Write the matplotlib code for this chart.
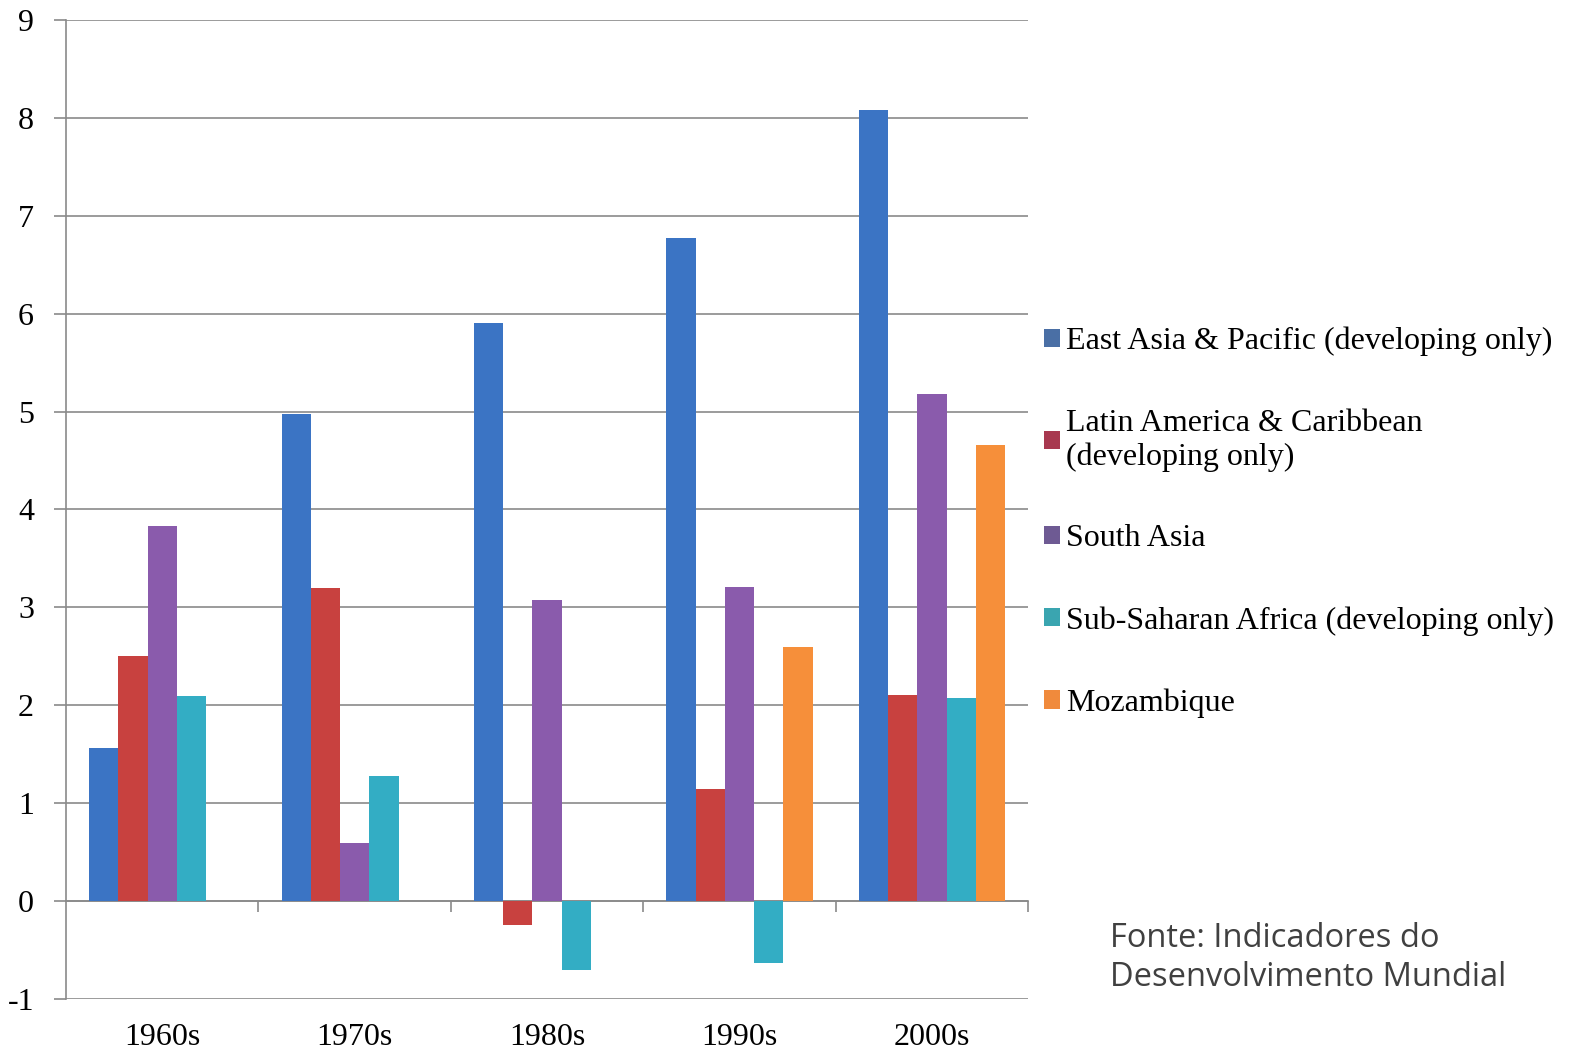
import matplotlib
matplotlib.use('Agg')
import matplotlib.pyplot as plt
from matplotlib.patches import Patch
import numpy as np

# data
decades = ['1960s', '1970s', '1980s', '1990s', '2000s']
series_names = [
    'East Asia & Pacific (developing only)',
    'Latin America & Caribbean\n(developing only)',
    'South Asia',
    'Sub-Saharan Africa (developing only)',
    'Mozambique',
]
east_asia = [1.56, 4.98, 5.90, 6.77, 8.08]
latin_america = [2.50, 3.20, -0.24, 1.14, 2.10]
south_asia = [3.83, 0.59, 3.08, 3.21, 5.18]
sub_saharan = [2.09, 1.28, -0.70, -0.63, 2.07]
mozambique = [np.nan, np.nan, np.nan, 2.60, 4.66]

colors = ['#3b74c4', '#c8413f', '#8a5bac', '#33adc4', '#f68f3a']
legend_colors = ['#4a6fa5', '#a8384f', '#6e5a93', '#3aa5b0', '#f08a3c']
y_ticks = list(range(-1, 10))

plt.rcParams['font.family'] = ['Liberation Serif', 'DejaVu Serif']

fig = plt.figure(figsize=(15.72, 10.53), dpi=100)
ax = fig.add_axes([0.042, 0.0513, 0.612, 0.9297])

all_series = [east_asia, latin_america, south_asia, sub_saharan, mozambique]
x = np.arange(len(decades))
group_w = 0.76
bar_w = group_w / len(all_series)
for i, (vals, col) in enumerate(zip(all_series, colors)):
    offs = -group_w / 2 + bar_w * (i + 0.5)
    ax.bar(x + offs, vals, width=bar_w, color=col, zorder=3)

ax.set_xlim(-0.5, 4.5)
ax.set_ylim(-1, 9)
ax.set_yticks(y_ticks)
ax.set_yticklabels([str(t) for t in y_ticks], fontsize=23)
ax.grid(axis='y', color='#8a8a8a', linewidth=1.2, zorder=0)
ax.tick_params(axis='y', direction='out', length=9, width=1.2, color='#8a8a8a', pad=14)

# category axis sits at zero, labels down at the bottom
ax.spines['bottom'].set_position(('data', 0))
ax.spines['bottom'].set_color('#8a8a8a')
ax.spines['bottom'].set_linewidth(1.2)
ax.set_xticks(x)
ax.set_xticklabels(decades, fontsize=23)
ax.tick_params(axis='x', which='major', length=0, pad=88)
ax.set_xticks(np.arange(0.5, 5, 1), minor=True)
ax.tick_params(axis='x', which='minor', direction='out', length=8, width=1.2, color='#8a8a8a')

ax.spines['left'].set_color('#8a8a8a')
ax.spines['left'].set_linewidth(1.2)
ax.spines['top'].set_visible(False)
ax.spines['right'].set_visible(False)

handles = [Patch(facecolor=c, edgecolor='none') for c in legend_colors]
ax.legend(handles, series_names, loc='upper left', bbox_to_anchor=(1.003, 0.700),
          frameon=False, fontsize=23, handlelength=0.5, handleheight=0.5,
          handletextpad=0.2, labelspacing=1.65, borderaxespad=0)

fig.text(0.706, 0.056, 'Fonte: Indicadores do\nDesenvolvimento Mundial',
         fontsize=23.5, family=['Open Sans', 'DejaVu Sans'], color='#404040',
         linespacing=1.25, va='bottom', ha='left')

fig.savefig('out.png', dpi=100, facecolor='white')
